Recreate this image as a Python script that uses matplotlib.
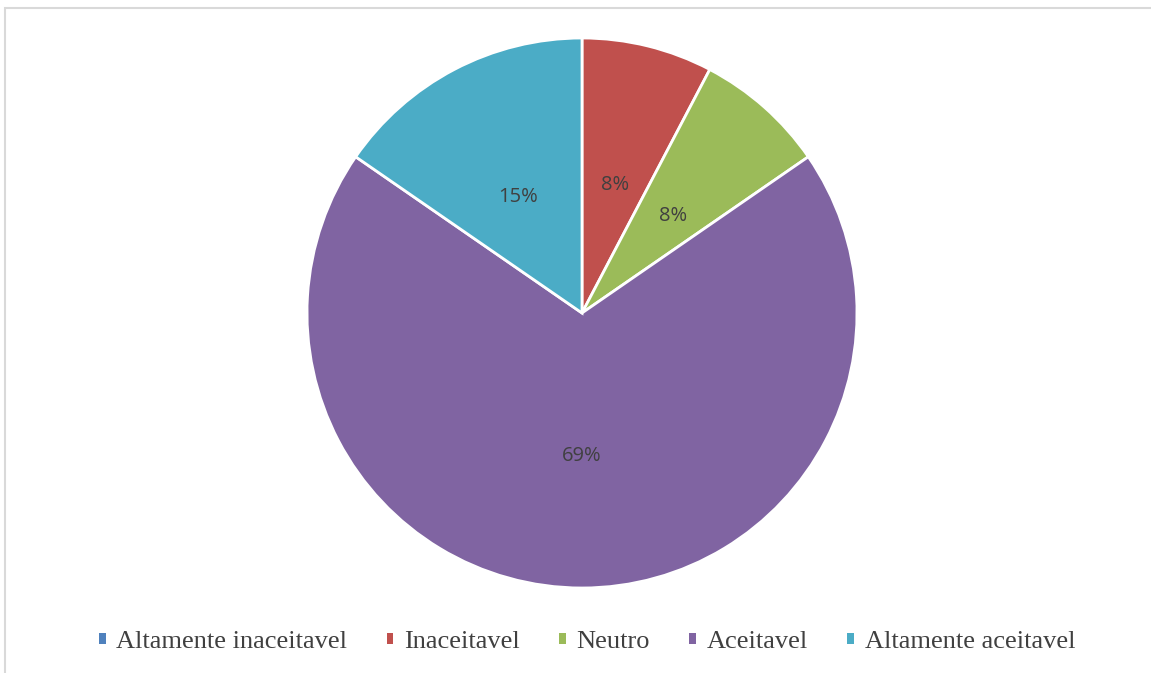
import matplotlib.pyplot as plt
from matplotlib.patches import Rectangle

categories = ['Altamente inaceitavel', 'Inaceitavel', 'Neutro', 'Aceitavel', 'Altamente aceitavel']
counts = [0, 1, 1, 9, 2]
colors = ['#4F81BD', '#C0504D', '#9BBB59', '#8064A2', '#4BACC6']


def fmt_pct(p):
    return '' if p < 0.5 else '%.0f%%' % p


fig = plt.figure(figsize=(11.51, 6.73), dpi=100)
# light grey frame (only left/top visible in the reference crop)
fig.patches.append(Rectangle((5 / 1151, -0.1), 1.2, 1 - 8 / 673 + 0.1, transform=fig.transFigure,
                             fill=False, edgecolor='#D9D9D9', linewidth=1.5))

ax = fig.add_axes([307 / 1151, 85 / 673, 550 / 1151, 550 / 673])
wedges, texts, autotexts = ax.pie(counts, colors=colors, startangle=90, counterclock=False,
                                  autopct=fmt_pct, pctdistance=0.5, radius=1,
                                  wedgeprops=dict(edgecolor='white', linewidth=2),
                                  textprops=dict(color='#404040', fontsize=14.5, family='Open Sans'))
for t in autotexts:
    x, y = t.get_position()
    t.set_position((x, y - 0.02))
ax.set_xlim(-1, 1)
ax.set_ylim(-1, 1)
ax.set_aspect('equal')

leg = fig.legend(wedges, categories, loc='center', bbox_to_anchor=(0.51, 1 - 642 / 673), ncol=5,
                 frameon=False, handlelength=0.25, handleheight=0.25, handletextpad=0.4,
                 columnspacing=1.5, prop=dict(family='Liberation Serif', size=19))
for p in leg.get_patches():
    p.set_linewidth(0)
for t in leg.get_texts():
    t.set_color('#404040')

fig.savefig('out.png', dpi=100)
